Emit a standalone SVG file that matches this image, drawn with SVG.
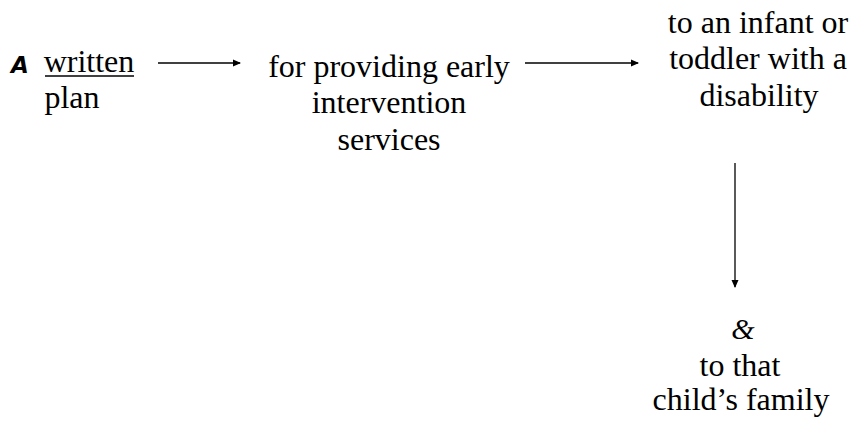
<svg xmlns="http://www.w3.org/2000/svg" width="858" height="422" viewBox="0 0 858 422">
<style>
text{font-family:"Liberation Serif","Times New Roman",serif;font-size:32px;fill:#000;text-anchor:middle}
.c{stroke:#000;stroke-width:1.3;fill:none}
</style>
<defs>
<marker id="ah" markerWidth="8" markerHeight="8" refX="7" refY="4" orient="auto" markerUnits="userSpaceOnUse">
<path d="M0,0.5 L8,4 L0,7.5 Z" fill="#000"/>
</marker>
</defs>
<rect width="858" height="422" fill="#fff"/>
<g id="n1">
<text x="20" y="73" style="font-family:'DejaVu Sans',sans-serif;font-weight:bold;font-style:italic;font-size:23px">A</text>
<text x="89" y="72">written</text>
<line x1="45" y1="76" x2="134" y2="76" stroke="#000" stroke-width="1.5"/>
<text x="72" y="108">plan</text>
</g>
<g id="n2">
<text x="389" y="77">for providing early</text>
<text x="389" y="113">intervention</text>
<text x="389" y="150">services</text>
</g>
<g id="n3">
<text x="758" y="33">to an infant or</text>
<text x="758" y="69">toddler with a</text>
<text x="759" y="106">disability</text>
</g>
<g id="n4">
<text x="743" y="339" style="font-style:italic;font-size:30px">&amp;</text>
<text x="740" y="376">to that</text>
<text x="741" y="410">child’s family</text>
</g>
<g id="connectors">
<line class="c" x1="158" y1="63" x2="240" y2="63" marker-end="url(#ah)"/>
<line class="c" x1="525" y1="63" x2="638" y2="63" marker-end="url(#ah)"/>
<line class="c" x1="735" y1="163" x2="735" y2="287" stroke="#888" marker-end="url(#ah)"/>
</g>
</svg>
